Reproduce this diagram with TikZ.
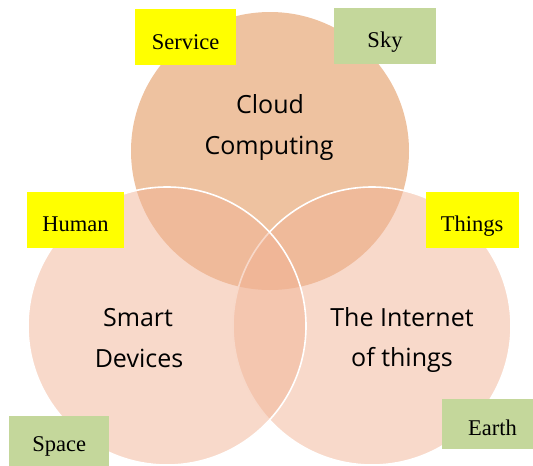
\documentclass[tikz,border=0pt]{standalone}
\usepackage{fontspec}
\setmainfont{Liberation Serif}
\newfontfamily\vsans{Open Sans}
\definecolor{topfill}{HTML}{EEC2A0}
\definecolor{sidefill}{HTML}{F1B395}
\definecolor{labyellow}{HTML}{FFFF00}
\definecolor{labgreen}{HTML}{C4D79B}
\tikzset{
  topcircle/.style={circle, minimum size=278pt, inner sep=0pt, fill=topfill},
  sidecircle/.style={circle, minimum size=278pt, inner sep=0pt, fill=sidefill, fill opacity=0.5, draw=white, line width=1.6pt},
  bigtext/.style={anchor=base, inner sep=0pt, font=\vsans\fontsize{25}{30}\selectfont, text=black},
  labtext/.style={anchor=base, inner sep=0pt, font=\fontsize{22.5}{27}\selectfont, text=black},
  yellowbox/.style={fill=labyellow, draw=none},
  greenbox/.style={fill=labgreen, draw=none}
}
\begin{document}
\begin{tikzpicture}[x=1pt,y=-1pt]
\useasboundingbox (0,0) rectangle (533,466);
\node[topcircle] (top) at (270,151) {};
\node[sidecircle] (right) at (372,326) {};
\node[sidecircle] (left) at (167,326) {};
% labels in circles
\node[bigtext] (t1) at (270,113.3) {Cloud};
\node[bigtext] (t2) at (269,154.3) {Computing};
\node[bigtext] (t3) at (138,326) {Smart};
\node[bigtext] (t4) at (139,367.7) {Devices};
\node[bigtext] (t5) at (402,326) {The Internet};
\node[bigtext] (t6) at (402,366) {of things};
% boxes
\fill[yellowbox] (135,9.3) rectangle (235.7,65.3);
\node[labtext] (service) at (185.5,49) {Service};
\fill[greenbox] (334.3,8.3) rectangle (435.7,64.3);
\node[labtext] (sky) at (385,47.7) {Sky};
\fill[yellowbox] (26.7,192) rectangle (124,248);
\node[labtext] (human) at (75.5,231.7) {Human};
\fill[yellowbox] (425.7,192) rectangle (519,248);
\node[labtext] (things) at (472,231.7) {Things};
\fill[greenbox] (9.3,416) rectangle (109.3,472);
\node[labtext] (space) at (59.3,451) {Space};
\fill[greenbox] (441.7,399) rectangle (540,449.3);
\node[labtext] (earth) at (492.5,435) {Earth};
\end{tikzpicture}
\end{document}
